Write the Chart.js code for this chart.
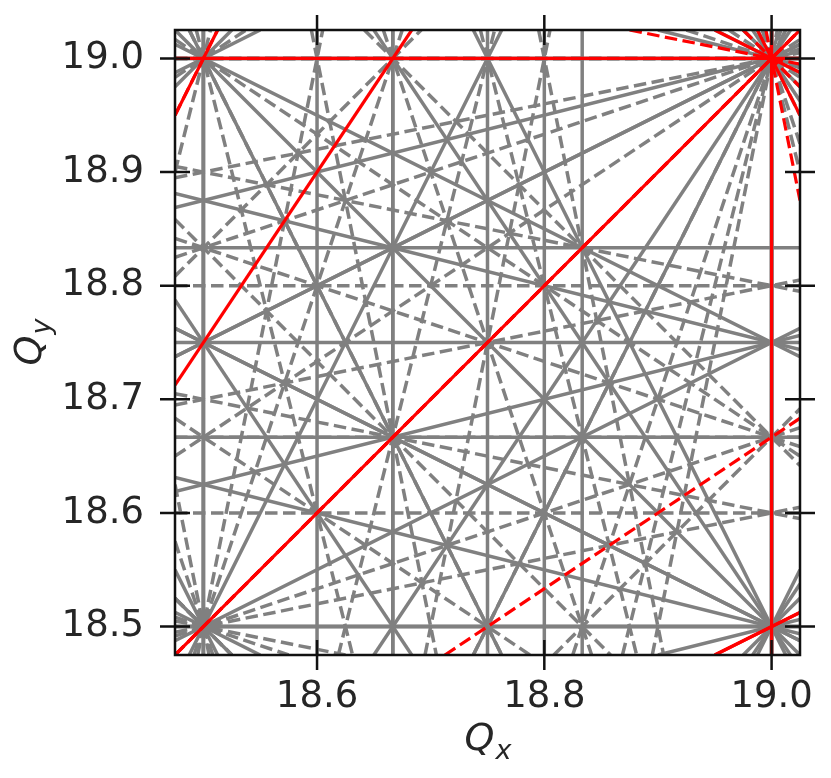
<!DOCTYPE html>
<html>
<head>
<meta charset="utf-8">
<script src="https://cdn.jsdelivr.net/npm/chart.js@4.4.0/dist/chart.umd.min.js"></script>
<style>
  html, body { margin: 0; padding: 0; background: #fff; }
</style>
</head>
<body>
<canvas id="tune-canvas" width="831" height="778"></canvas>
<script>
// Tune window shown on the plot
const qxRange = [18.475, 19.025];
const qyRange = [18.475, 19.025];
const xTicks = [18.6, 18.8, 19.0];
const yTicks = [18.5, 18.6, 18.7, 18.8, 18.9, 19.0];

// systematic resonances (p multiple of this) are drawn red
const periodicity = 6;

// resonance lines m*Qx + n*Qy = p crossing the window, [m, n, [p...]] per order
const order1 = [[1, 0, [19]], [0, 1, [19]]];
const order2 = [[2, 0, [37, 38]], [1, 1, [37, 38]], [0, 2, [37, 38]], [1, -1, [0]]];
const order3 = [
    [3, 0, [56, 57]], [2, 1, [56, 57]], [1, 2, [56, 57]], [0, 3, [56, 57]],
    [2, -1, [18, 19]], [1, -2, [-19, -18]]
];
const order4 = [
    [4, 0, [74, 75, 76]], [3, 1, [74, 75, 76]], [2, 2, [74, 75, 76]], [1, 3, [74, 75, 76]], [0, 4, [74, 75, 76]],
    [3, -1, [37, 38]], [2, -2, [-1, 0, 1]], [1, -3, [-38, -37]]
];
const order5 = [
    [5, 0, [93, 94, 95]], [4, 1, [93, 94, 95]], [3, 2, [93, 94, 95]], [2, 3, [93, 94, 95]], [1, 4, [93, 94, 95]], [0, 5, [93, 94, 95]],
    [4, -1, [55, 56, 57]], [3, -2, [18, 19, 20]], [2, -3, [-20, -19, -18]], [1, -4, [-57, -56, -55]]
];
const order6 = [
    [6, 0, [111, 112, 113, 114]], [5, 1, [111, 112, 113, 114]], [4, 2, [111, 112, 113, 114]], [3, 3, [111, 112, 113, 114]],
    [2, 4, [111, 112, 113, 114]], [1, 5, [111, 112, 113, 114]], [0, 6, [111, 112, 113, 114]],
    [5, -1, [74, 75, 76]], [4, -2, [36, 37, 38, 39]], [3, -3, [-1, 0, 1]], [2, -4, [-39, -38, -37, -36]], [1, -5, [-76, -75, -74]]
];

const lineGrey = '#808080';
const lineRed = '#ff0000';
const axisColor = '#111111';
const textColor = '#262626';
const fontFamily = "'DejaVu Sans', sans-serif";

// get the two points where the line leaves the window
function clipLine(m, n, p) {
    const pts = [];
    if (n !== 0) {
        qxRange.forEach(function(x) {
            const y = (p - m * x) / n;
            if (y >= qyRange[0] && y <= qyRange[1]) pts.push({x: x, y: y});
        });
    }
    if (m !== 0) {
        qyRange.forEach(function(y) {
            const x = (p - n * y) / m;
            if (x >= qxRange[0] && x <= qxRange[1]) pts.push({x: x, y: y});
        });
    }
    if (pts.length < 2) return null;
    pts.sort(function(a, b) { return (a.x - b.x) || (a.y - b.y); });
    return [pts[0], pts[pts.length - 1]];
}

// build one dataset per resonance line
let datasets = [];
[order1, order2, order3, order4, order5, order6].forEach(function(order) {
    order.forEach(function(term) {
        const m = term[0], n = term[1];
        term[2].forEach(function(p) {
            const seg = clipLine(m, n, p);
            if (!seg) return;
            const systematic = p % periodicity === 0;
            const skew = Math.abs(n) % 2 === 1;
            datasets.push({
                data: seg,
                showLine: true,
                borderColor: systematic ? lineRed : lineGrey,
                borderWidth: systematic ? 3.2 : 3.5,
                borderDash: skew ? [12.5, 5.5] : [],
                borderCapStyle: 'butt',
                pointRadius: 0,
                order: systematic ? 0 : 1,
            });
        });
    });
});

// Q with italic subscript, like matplotlib mathtext
function drawSubLabel(ctx, base, sub, cx, baseline) {
    ctx.font = 'italic 38px ' + fontFamily;
    const wb = ctx.measureText(base).width;
    ctx.font = 'italic 27px ' + fontFamily;
    const ws = ctx.measureText(sub).width;
    const x0 = cx - (wb + ws) / 2;
    ctx.textAlign = 'left';
    ctx.textBaseline = 'alphabetic';
    ctx.font = 'italic 38px ' + fontFamily;
    ctx.fillText(base, x0, baseline);
    ctx.font = 'italic 27px ' + fontFamily;
    ctx.fillText(sub, x0 + wb + 1, baseline + 9);
}

function noPadding(scale) {
    scale.paddingTop = 0;
    scale.paddingBottom = 0;
    scale.paddingLeft = 0;
    scale.paddingRight = 0;
}

const framePlugin = {
    id: 'frame',
    afterDraw(chart) {
        const c = chart.ctx;
        const a = chart.chartArea;
        const xs = chart.scales.x, ys = chart.scales.y;
        const tickLen = 15;
        c.save();
        c.strokeStyle = axisColor;
        c.lineWidth = 2.5;
        c.strokeRect(a.left, a.top, a.right - a.left, a.bottom - a.top);
        c.beginPath();
        xTicks.forEach(function(v) {
            const px = xs.getPixelForValue(v);
            c.moveTo(px, a.bottom - tickLen); c.lineTo(px, a.bottom + tickLen);
            c.moveTo(px, a.top - tickLen); c.lineTo(px, a.top + tickLen);
        });
        yTicks.forEach(function(v) {
            const py = ys.getPixelForValue(v);
            c.moveTo(a.left - tickLen, py); c.lineTo(a.left + tickLen, py);
            c.moveTo(a.right - tickLen, py); c.lineTo(a.right + tickLen, py);
        });
        c.stroke();

        // axis titles
        c.fillStyle = textColor;
        drawSubLabel(c, 'Q', 'x', (a.left + a.right) / 2, 750);
        c.save();
        c.translate(41, (a.top + a.bottom) / 2);
        c.rotate(-Math.PI / 2);
        drawSubLabel(c, 'Q', 'y', 0, 0);
        c.restore();
        c.restore();
    }
};

const tuneChart = new Chart(document.getElementById('tune-canvas'), {
    type: 'scatter',
    data: { datasets: datasets },
    options: {
        responsive: false,
        animation: false,
        layout: { autoPadding: false, padding: { top: 30, right: 31, left: 0, bottom: 0 } },
        plugins: { legend: { display: false }, tooltip: { enabled: false } },
        scales: {
            x: {
                type: 'linear',
                min: qxRange[0],
                max: qxRange[1],
                afterBuildTicks: function(scale) { scale.ticks = xTicks.map(function(v) { return {value: v}; }); },
                afterFit: function(scale) { scale.height = 123; noPadding(scale); },
                grid: { display: false },
                border: { display: false },
                ticks: {
                    padding: 12,
                    color: textColor,
                    font: { size: 37, family: fontFamily },
                    maxRotation: 0,
                    callback: function(v) { return v.toFixed(1); },
                },
            },
            y: {
                type: 'linear',
                min: qyRange[0],
                max: qyRange[1],
                afterBuildTicks: function(scale) { scale.ticks = yTicks.map(function(v) { return {value: v}; }); },
                afterFit: function(scale) { scale.width = 175; noPadding(scale); },
                grid: { display: false },
                border: { display: false },
                ticks: {
                    padding: 23,
                    color: textColor,
                    font: { size: 37, family: fontFamily },
                    callback: function(v) { return v.toFixed(1); },
                },
            },
        },
    },
    plugins: [framePlugin],
});
</script>
</body>
</html>
